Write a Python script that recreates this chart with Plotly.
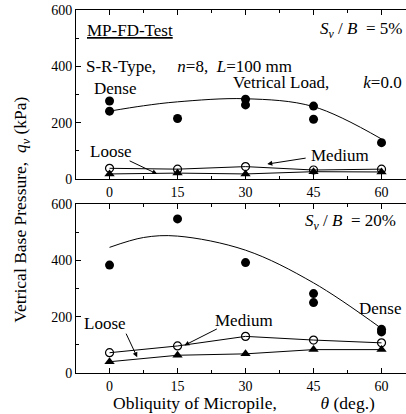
import plotly.graph_objects as go

# ---- data ----
theta = [0, 15, 30, 45, 60]

# Top panel: Sv/B = 5%
dense5_x = [0, 0, 15, 30, 30, 45, 45, 60]
dense5_y = [277, 241, 215, 283, 263, 259, 212, 129]
trend5_x = [0, 7.5, 15, 30, 45, 60]
trend5_y = [241, 260, 274, 285, 257, 142]
medium5_y = [38, 35, 44, 32, 35]
loose5_y = [18, 21, 18, 26, 25]

# Bottom panel: Sv/B = 20%
dense20_x = [0, 15, 30, 45, 45, 60, 60]
dense20_y = [383, 547, 392, 282, 250, 146, 155]
trend20_x = [0, 7.5, 15, 30, 45, 60]
trend20_y = [446, 481, 486, 436, 320, 158]
medium20_y = [72, 96, 130, 117, 107]
loose20_y = [40, 63, 68, 83, 83]

xticks = [0, 15, 30, 45, 60]
yticks = [0, 200, 400, 600]

FONT = "Liberation Serif"
BLACK = "black"

fig = go.Figure()

def add_panel(xa, ya, dx, dy, tx, ty, my, ly):
    fig.add_trace(go.Scatter(x=tx, y=ty, mode="lines", line=dict(color=BLACK, width=1, shape="spline", smoothing=1.0),
                             xaxis=xa, yaxis=ya, showlegend=False, hoverinfo="skip"))
    fig.add_trace(go.Scatter(x=theta, y=my, mode="lines+markers", line=dict(color=BLACK, width=1),
                             marker=dict(symbol="circle-open", size=8, color=BLACK, line=dict(width=1.2, color=BLACK)),
                             xaxis=xa, yaxis=ya, showlegend=False))
    fig.add_trace(go.Scatter(x=theta, y=ly, mode="lines+markers", line=dict(color=BLACK, width=1),
                             marker=dict(symbol="triangle-up", size=9, color=BLACK),
                             xaxis=xa, yaxis=ya, showlegend=False))
    fig.add_trace(go.Scatter(x=dx, y=dy, mode="markers",
                             marker=dict(symbol="circle", size=9, color=BLACK),
                             xaxis=xa, yaxis=ya, showlegend=False))

add_panel("x", "y", dense5_x, dense5_y, trend5_x, trend5_y, medium5_y, loose5_y)
add_panel("x2", "y2", dense20_x, dense20_y, trend20_x, trend20_y, medium20_y, loose20_y)

xax = dict(range=[-7.4, 65.4], tickvals=xticks, ticks="inside", ticklen=5, tickcolor=BLACK,
           showline=True, linecolor=BLACK, linewidth=1, mirror="ticks", showgrid=False, zeroline=False,
           tickfont=dict(family=FONT, size=14, color=BLACK),
           minor=dict(dtick=7.5, tick0=0, ticks="inside", ticklen=3, tickcolor=BLACK, showgrid=False))
yax = dict(range=[0, 600], tickvals=yticks, ticks="inside", ticklen=5, tickcolor=BLACK,
           showline=True, linecolor=BLACK, linewidth=1, showgrid=False, zeroline=False,
           tickfont=dict(family=FONT, size=14, color=BLACK),
           minor=dict(dtick=100, tick0=0, ticks="inside", ticklen=3, tickcolor=BLACK, showgrid=False))

fig.update_layout(
    width=406, height=414,
    margin=dict(l=76, r=0, t=10, b=41),
    paper_bgcolor="white", plot_bgcolor="white",
    font=dict(family=FONT, size=17, color=BLACK),
    xaxis=dict(xax, domain=[0, 1], anchor="y"),
    yaxis=dict(yax, domain=[0.5344, 1.0], anchor="x"),
    xaxis2=dict(xax, domain=[0, 1], anchor="y2"),
    yaxis2=dict(yax, domain=[0.0, 0.4656], anchor="x2"),
)

NB = "\u00a0"
ann = []
def txt(x, y, text, xa="x", ya="y", xanchor="center", size=17):
    ann.append(dict(x=x, y=y, xref=xa, yref=ya, text=text, showarrow=False, xanchor=xanchor,
                    yanchor="middle", font=dict(family=FONT, size=size, color=BLACK)))

def arrow(x0, y0, x1, y1, xa="x", ya="y"):
    ann.append(dict(x=x1, y=y1, ax=x0, ay=y0, xref=xa, yref=ya, axref=xa, ayref=ya, text="",
                    showarrow=True, arrowhead=2, arrowsize=1, arrowwidth=1, arrowcolor=BLACK, standoff=0))

# top panel texts
txt(-5.4, 529, "<u>MP-FD-Test</u>", xanchor="left")
txt(64.9, 529, "<i>S</i><sub><i>v</i></sub>" + NB + "/" + NB + "<i>B</i>" + NB * 2 + "=" + NB + "5%", xanchor="right")
txt(-5.6, 398, "S-R-Type," + NB * 5 + "<i>n</i>=8," + NB * 2 + "<i>L</i>=100 mm", xanchor="left")
txt(64.9, 344, "Vetrical Load," + NB * 8 + "<i>k</i>=0.0", xanchor="right")
txt(1.3, 320, "Dense")
txt(0.4, 96, "Loose")
txt(50.9, 85, "Medium")
arrow(4.1, 67, 10.5, 18)
arrow(43.6, 75, 34.8, 53)

# bottom panel texts
txt(63.7, 535, "<i>S</i><sub><i>v</i></sub>" + NB + "/" + NB + "<i>B</i>" + NB * 2 + "=" + NB + "20%", "x2", "y2", xanchor="right")
txt(-1.1, 177, "Loose", "x2", "y2")
txt(29.7, 187, "Medium", "x2", "y2")
txt(59.7, 230, "Dense", "x2", "y2")
arrow(3.5, 145, 6.1, 56, "x2", "y2")
arrow(24, 159, 16.5, 98, "x2", "y2")

# axis titles
ann.append(dict(x=-0.1636, y=0.45, xref="paper", yref="paper", textangle=-90, showarrow=False,
                text="Vetrical Base Pressure," + NB * 2 + "<i>q</i><sub><i>v</i></sub>" + NB + "(kPa)",
                font=dict(family=FONT, size=17.5, color=BLACK), xanchor="center", yanchor="middle"))
ann.append(dict(x=0.509, y=-0.0826, xref="paper", yref="paper", showarrow=False,
                text="Obliquity of Micropile," + NB * 10 + "<i>θ</i>" + NB + "(deg.)",
                font=dict(family=FONT, size=17.5, color=BLACK), xanchor="center", yanchor="middle"))

fig.update_layout(annotations=ann)
fig.write_html("out.html", config={"displayModeBar": False},
               post_script="document.body.style.margin='0';document.body.style.overflow='hidden';")
